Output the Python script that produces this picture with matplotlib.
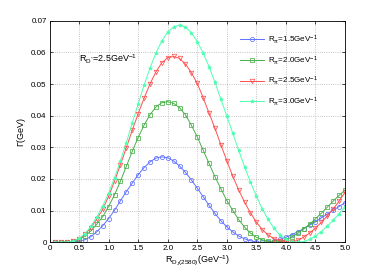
import numpy as np
import matplotlib
matplotlib.use("Agg")
import matplotlib.pyplot as plt

# R_{D_J(2580)} grid (GeV^-1)
r_vals = np.round(np.arange(0.1, 5.01, 0.1), 1)

# Gamma (GeV), one list per R_pi
gamma_15 = [0.0, 0.0, 0.0, 0.0001, 0.0003, 0.0008, 0.0018, 0.0033, 0.0052, 0.0075,
            0.0101, 0.0131, 0.0160, 0.0187, 0.0213, 0.0236, 0.0254, 0.0266, 0.0270, 0.0267,
            0.0257, 0.0241, 0.0221, 0.0197, 0.0171, 0.0144, 0.0117, 0.0091, 0.0068, 0.0049,
            0.0033, 0.0020, 0.0011, 0.0005, 0.0001, 0.0000, 0.0001, 0.0004, 0.0009, 0.0016,
            0.0024, 0.0033, 0.0043, 0.0054, 0.0065, 0.0077, 0.0089, 0.0101, 0.0113, 0.0125]

gamma_20 = [0.0, 0.0, 0.0001, 0.0003, 0.0009, 0.0020, 0.0036, 0.0057, 0.0081, 0.0113,
            0.0150, 0.0193, 0.0240, 0.0287, 0.0331, 0.0370, 0.0403, 0.0427, 0.0441, 0.0444,
            0.0439, 0.0425, 0.0403, 0.0370, 0.0333, 0.0291, 0.0249, 0.0207, 0.0169, 0.0132,
            0.0101, 0.0072, 0.0048, 0.0029, 0.0016, 0.0008, 0.0003, 0.0001, 0.0002, 0.0008,
            0.0017, 0.0028, 0.0042, 0.0057, 0.0074, 0.0092, 0.0111, 0.0130, 0.0148, 0.0165]

gamma_25 = [0.0, 0.0, 0.0001, 0.0004, 0.0011, 0.0025, 0.0046, 0.0073, 0.0104, 0.0145,
            0.0193, 0.0245, 0.0299, 0.0354, 0.0406, 0.0455, 0.0500, 0.0538, 0.0567, 0.0583,
            0.0587, 0.0581, 0.0563, 0.0536, 0.0502, 0.0457, 0.0408, 0.0360, 0.0308, 0.0258,
            0.0209, 0.0166, 0.0127, 0.0093, 0.0064, 0.0040, 0.0023, 0.0011, 0.0004, 0.0001,
            0.0000, 0.0006, 0.0016, 0.0029, 0.0045, 0.0063, 0.0083, 0.0105, 0.0130, 0.0158]

gamma_30 = [0.0, 0.0, 0.0001, 0.0004, 0.0012, 0.0027, 0.0050, 0.0080, 0.0115, 0.0155,
            0.0204, 0.0257, 0.0315, 0.0377, 0.0437, 0.0496, 0.0550, 0.0597, 0.0636, 0.0664,
            0.0680, 0.0686, 0.0680, 0.0662, 0.0634, 0.0598, 0.0555, 0.0505, 0.0452, 0.0399,
            0.0345, 0.0291, 0.0239, 0.0190, 0.0146, 0.0106, 0.0072, 0.0044, 0.0023, 0.0009,
            0.0002, 0.0000, 0.0002, 0.0009, 0.0020, 0.0034, 0.0051, 0.0070, 0.0090, 0.0113]

series_labels = [r"R$_{\pi}$=1.5GeV$^{-1}$", r"R$_{\pi}$=2.0GeV$^{-1}$",
                 r"R$_{\pi}$=2.5GeV$^{-1}$", r"R$_{\pi}$=3.0GeV$^{-1}$"]

x_ticks = [0, 0.5, 1.0, 1.5, 2.0, 2.5, 3.0, 3.5, 4.0, 4.5, 5.0]
x_tick_labels = ["0", "0.5", "1.0", "1.5", "2.0", "2.5", "3.0", "3.5", "4.0", "4.5", "5.0"]
y_ticks = [0, 0.01, 0.02, 0.03, 0.04, 0.05, 0.06, 0.07]
y_tick_labels = ["0", "0.01", "0.02", "0.03", "0.04", "0.05", "0.06", "0.07"]

plt.rcParams["font.family"] = ["Liberation Sans", "DejaVu Sans"]
plt.rcParams["mathtext.fontset"] = "custom"
plt.rcParams["mathtext.rm"] = "Liberation Sans"
plt.rcParams["mathtext.it"] = "Liberation Sans"
plt.rcParams["mathtext.default"] = "rm"

fig = plt.figure(figsize=(3.82, 2.73), dpi=100)
ax = fig.add_axes([0.1296, 0.1125, 0.7735, 0.8117])

styles = [
    dict(color="#6070ff", marker="o", mfc="none", ms=3.0),
    dict(color="#48b048", marker="s", mfc="none", ms=2.8),
    dict(color="#ff5050", marker="v", mfc="none", ms=3.2),
    dict(color="#4dffb0", marker="*", mfc="#4dffb0", ms=2.8),
]

for g, lab, st in zip([gamma_15, gamma_20, gamma_25, gamma_30], series_labels, styles):
    ax.plot(r_vals, g, label=lab, lw=0.7, mew=0.55, **st)

ax.set_xlim(0, 5)
ax.set_ylim(0, 0.07)
ax.set_xticks(x_ticks)
ax.set_xticklabels(x_tick_labels)
ax.set_yticks(y_ticks)
ax.set_yticklabels(y_tick_labels)
ax.tick_params(direction="in", top=True, right=True, length=2.5, width=0.5,
               labelsize=5.8, pad=2)
ax.grid(True, linestyle=":", color="#b0b0b0", linewidth=0.6)
for sp in ax.spines.values():
    sp.set_linewidth(0.6)

ax.set_xlabel(r"R$_{D_{J}(2580)}$(GeV$^{-1}$)", fontsize=6.5, labelpad=1)
ax.set_ylabel(r"$\Gamma$(GeV)", fontsize=6.5, labelpad=2)

ax.text(0.1, 0.825, r"R$_{D^{*}}$=2.5GeV$^{-1}$", transform=ax.transAxes,
        fontsize=6.5, ha="left", va="center")

ax.legend(loc="upper left", bbox_to_anchor=(0.62, 0.975), frameon=False,
          fontsize=5.8, handlelength=3.0, labelspacing=1.0, handletextpad=0.5)

fig.savefig("out.png", dpi=100)
